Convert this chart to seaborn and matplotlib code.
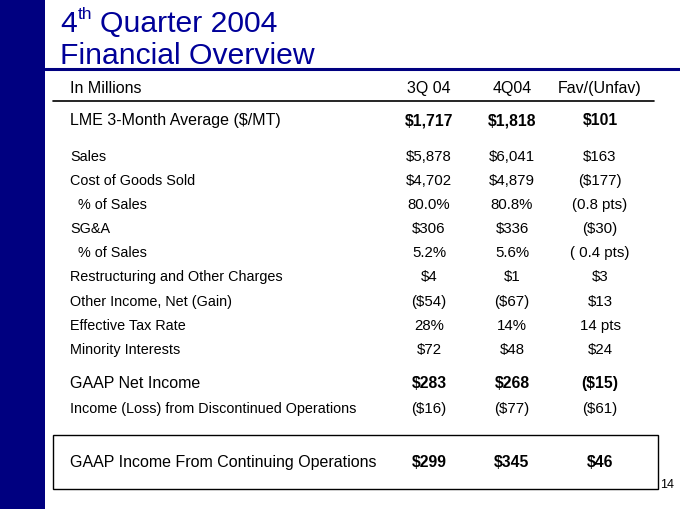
import matplotlib.pyplot as plt
import seaborn as sns

labels = ["LME 3-Month Average ($/MT)", "Sales", "Cost of Goods Sold", "  % of Sales", "SG&A",
          "  % of Sales", "Restructuring and Other Charges", "Other Income, Net (Gain)",
          "Effective Tax Rate", "Minority Interests", "GAAP Net Income",
          "Income (Loss) from Discontinued Operations", "GAAP Income From Continuing Operations"]
q3_04 = ["$1,717", "$5,878", "$4,702", "80.0%", "$306", "5.2%", "$4", "($54)", "28%", "$72",
         "$283", "($16)", "$299"]
q4_04 = ["$1,818", "$6,041", "$4,879", "80.8%", "$336", "5.6%", "$1", "($67)", "14%", "$48",
         "$268", "($77)", "$345"]
fav = ["$101", "$163", "($177)", "(0.8 pts)", "($30)", "( 0.4 pts)", "$3", "$13", "14 pts",
       "$24", "($15)", "($61)", "$46"]
headers = ["In Millions", "3Q 04", "4Q04", "Fav/(Unfav)"]

# layout (pixel baselines) and which rows are emphasised
row_y = [125, 161, 185, 209, 233, 257, 281, 306, 330, 354, 388, 413, 467]
emph = [True, False, False, False, False, False, False, False, False, False, True, False, True]
col_x = [70, 429, 512, 600]

sns.set_theme(style="white")
plt.rcParams['font.family'] = ['Liberation Sans', 'DejaVu Sans']
plt.rcParams['text.color'] = 'black'

navy = "#000080"
title_c = "#000099"
fig = plt.figure(figsize=(6.8, 5.1), dpi=100)
ax = fig.add_axes([0, 0, 1, 1])
ax.set_xlim(0, 680)
ax.set_ylim(510, 0)
ax.axis("off")

ax.add_patch(plt.Rectangle((0, 0), 45, 510, color=navy, lw=0))
ax.plot([45, 680], [69.5, 69.5], color=navy, lw=2.2)
ax.text(60, 32, "4", fontsize=21.7, color=title_c, va="baseline")
ax.text(78, 19, "th", fontsize=12.5, color=title_c, va="baseline")
ax.text(100, 32, "Quarter 2004", fontsize=21.7, color=title_c, va="baseline")
ax.text(60, 64, "Financial Overview", fontsize=21.7, color=title_c, va="baseline")

# header
ax.text(col_x[0], 93, headers[0], fontsize=11.5, va="baseline")
for x, h in zip(col_x[1:], headers[1:]):
    ax.text(x, 93, h, fontsize=11.5, va="baseline", ha="center")
ax.plot([53, 654], [101.5, 101.5], color="black", lw=1.2)

for lab, a, b, c, y, e in zip(labels, q3_04, q4_04, fav, row_y, emph):
    ax.text(col_x[0], y, lab, fontsize=11.5 if e else 10.4, va="baseline")
    for x, v in zip(col_x[1:], [a, b, c]):
        ax.text(x, y, v, fontsize=11.3 if e else 10.8, va="baseline", ha="center",
                fontweight="bold" if e else "normal")

ax.add_patch(plt.Rectangle((53, 436), 605, 54, fill=False, ec="black", lw=1))
ax.text(660, 488, "14", fontsize=9, va="baseline")

fig.savefig("out.png", dpi=100)
